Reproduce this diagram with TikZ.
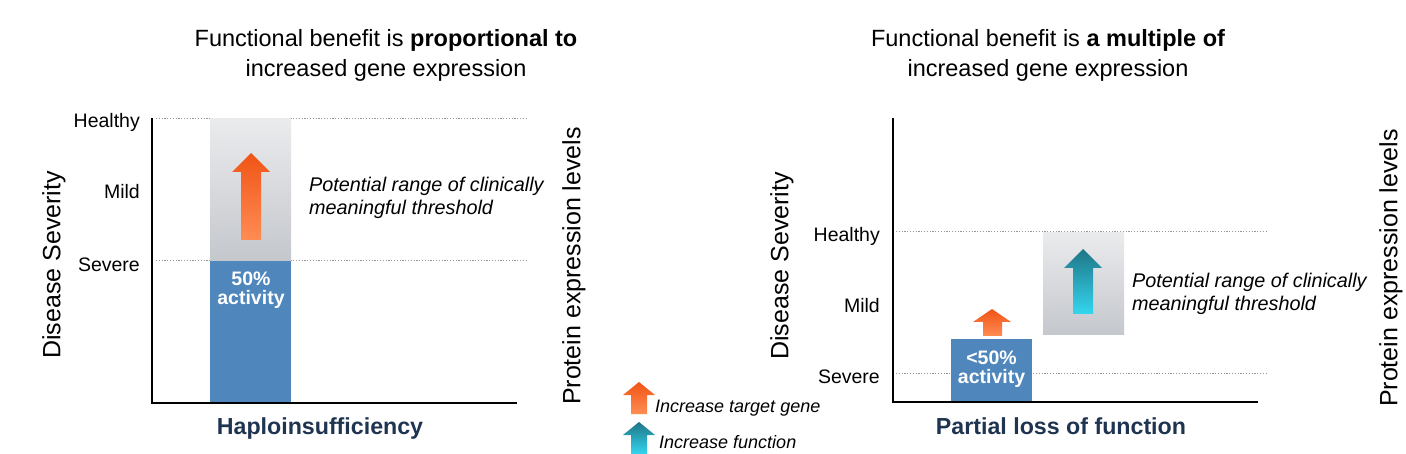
\documentclass[tikz,border=0pt]{standalone}
\usepackage{fontspec}
\setmainfont{Liberation Sans}
\usetikzlibrary{positioning}
\definecolor{barblue}{RGB}{79,134,188}
\definecolor{boxtop}{RGB}{234,235,237}
\definecolor{boxbottom}{RGB}{196,199,204}
\definecolor{orangetop}{RGB}{240,84,22}
\definecolor{orangebottom}{RGB}{255,140,84}
\definecolor{tealtop}{RGB}{30,118,134}
\definecolor{tealbottom}{RGB}{52,214,240}
\definecolor{captionnavy}{RGB}{31,52,80}
\definecolor{guidegray}{RGB}{150,150,150}

\begin{document}
\begin{tikzpicture}
[x=1pt, y=-1pt, inner sep=0pt,
% STYLES
% The title style is used for the two headings
title/.style={align=center, font=\fontsize{23.5}{30}\selectfont},
% The tick style is used for the severity levels
tick/.style={anchor=base east, font=\fontsize{19.5}{22}\selectfont},
% The axislabel style is used for the rotated axis names
axislabel/.style={rotate=90, font=\fontsize{25}{28}\selectfont},
% The note style is used for the italic comments
note/.style={anchor=north west, align=left, font=\fontsize{19.8}{23}\selectfont\itshape},
% The barlabel style is used for the text inside the blue bars
barlabel/.style={align=center, text=white, font=\fontsize{19.5}{19}\selectfont\bfseries},
caption/.style={anchor=base, text=captionnavy, font=\fontsize{23.2}{26}\selectfont\bfseries},
legend/.style={anchor=base west, font=\fontsize{18}{20}\selectfont\itshape},
guide/.style={guidegray, line width=1pt, dash pattern=on 1.2pt off 1.6pt},
axis/.style={black, line width=2pt}]

\useasboundingbox (0,0) rectangle (1406,454);

%%%%%%%%%%%%%%%
% Left panel

\node [title] (title-left) at (386,55) {Functional benefit is \textbf{proportional to}\\increased gene expression};

% guides and bars
\draw [guide] (156,119) -- (527,119);
\draw [guide] (156,261) -- (527,261);
\shade [top color=boxtop, bottom color=boxbottom] (210,119) rectangle (291,261);
\fill [barblue] (210,261) rectangle (291,403);
\shade [top color=orangetop, bottom color=orangebottom]
  (241,240) -- (241,172) -- (232,172) -- (251,153) -- (270,172) -- (261,172) -- (261,240) -- cycle;
\draw [axis] (152,118) -- (152,403) -- (517,403);

\node [tick] (healthy-left) at (140,128) {Healthy};
\node [tick] (mild-left) at (140,199) {Mild};
\node [tick] (severe-left) at (140,272) {Severe};
\node [axislabel] (severity-left) at (54,265) {Disease Severity};
\node [axislabel] (protein-left) at (574,266) {Protein expression levels};
\node [barlabel] (bar-left) at (251,290) {50\%\\activity};
\node [note] (note-left) at (309,177) {Potential range of clinically\\meaningful threshold};
\node [caption] (caption-left) at (320,434) {Haploinsufficiency};

%%%%%%%%%%%%%%%
% Right panel

\node [title] (title-right) at (1048,55) {Functional benefit is \textbf{a multiple of}\\increased gene expression};

\draw [guide] (896,232) -- (1268,232);
\draw [guide] (896,373) -- (1268,373);
\fill [barblue] (951,339) rectangle (1032,403);
\shade [top color=boxtop, bottom color=boxbottom] (1043,233) rectangle (1124,335);
\shade [top color=orangetop, bottom color=orangebottom]
  (983,336) -- (983,322) -- (973,322) -- (992,309) -- (1011,322) -- (1002,322) -- (1002,336) -- cycle;
\shade [top color=tealtop, bottom color=tealbottom]
  (1073,314) -- (1073,268) -- (1064,268) -- (1083,249) -- (1102,268) -- (1093,268) -- (1093,314) -- cycle;
\draw [axis] (893,118) -- (893,402) -- (1258,402);

\node [tick] (healthy-right) at (880,242) {Healthy};
\node [tick] (mild-right) at (880,313) {Mild};
\node [tick] (severe-right) at (880,383) {Severe};
\node [axislabel] (severity-right) at (782,266) {Disease Severity};
\node [axislabel] (protein-right) at (1391,268) {Protein expression levels};
\node [barlabel] (bar-right) at (991.5,369) {<50\%\\activity};
\node [note] (note-right) at (1132,273) {Potential range of clinically\\meaningful threshold};
\node [caption] (caption-right) at (1061,434) {Partial loss of function};

%%%%%%%%%%%%%%%
% Legend

\shade [top color=orangetop, bottom color=orangebottom]
  (631,414) -- (631,395) -- (623,395) -- (639,382) -- (655,395) -- (647,395) -- (647,414) -- cycle;
\shade [top color=tealtop, bottom color=tealbottom]
  (631,454) -- (631,435) -- (623,435) -- (639,422) -- (655,435) -- (647,435) -- (647,454) -- cycle;
\node [legend] (legend-target) at (655,412) {Increase target gene};
\node [legend] (legend-function) at (659,448) {Increase function};

\end{tikzpicture}
\end{document}
